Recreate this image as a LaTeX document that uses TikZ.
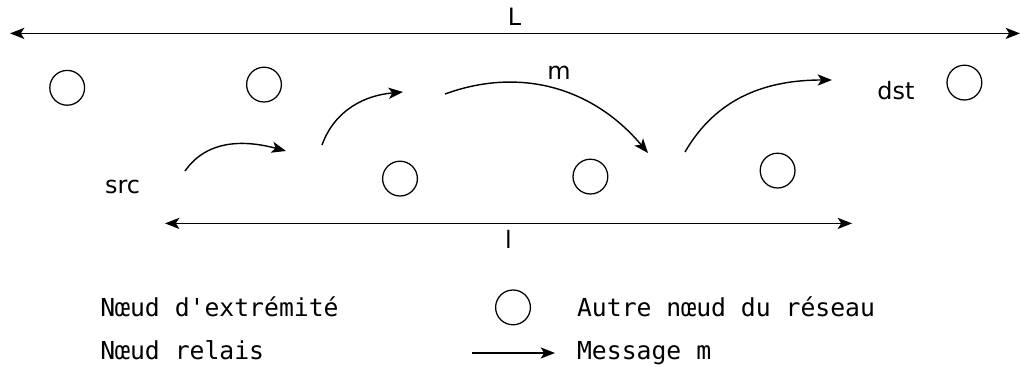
\documentclass[tikz,border=0pt]{standalone}
\usepackage{fontspec}
\setmainfont{DejaVu Sans}
\setmonofont{DejaVu Sans Mono}
\usetikzlibrary{arrows.meta}
\newcommand{\legtext}[1]{\texttt{#1}}

\begin{document}
\begin{tikzpicture}[
  >={Stealth[length=3.6mm, width=2.8mm, inset=0.9mm]},
  station/.style={
    circle, draw=black, line width=0.9pt,
    minimum size=0.87cm, inner sep=0pt
  },
  msg/.style={->, line width=1pt},
  dim/.style={<->, line width=1pt},
  lbl/.style={font=\fontsize{17}{20}\selectfont, inner sep=0pt, anchor=base west},
  leg/.style={font=\fontsize{17.6}{20}\selectfont, inner sep=0pt, anchor=base west},
]
  \useasboundingbox (0,0) rectangle (25.5,9.175);

  % other nodes of the network
  \node[station] (n1) at (1.68, 6.98)   {};
  \node[station] (n2) at (6.6, 7.06)    {};
  \node[station] (n3) at (10.0, 4.71)   {};
  \node[station] (n4) at (14.76, 4.76)  {};
  \node[station] (n5) at (19.44, 4.91)  {};
  \node[station] (n6) at (24.11, 7.11)  {};

  % end points
  \node[lbl] (src) at (2.62, 4.35)  {src};
  \node[lbl] (dst) at (21.93, 6.675) {dst};

  % lengths L and l
  \coordinate (Lw) at (0.25, 8.34);
  \coordinate (Le) at (25.5, 8.34);
  \draw[dim] (Lw) -- (Le);
  \node[lbl] (Llbl) at (12.69, 8.525) {L};

  \coordinate (lw) at (4.125, 3.59);
  \coordinate (le) at (21.3, 3.59);
  \draw[dim] (lw) -- (le);
  \node[lbl] (llbl) at (12.62, 2.975) {l};

  % hops of message m
  \coordinate (h1s) at (4.625, 4.9);
  \coordinate (h1e) at (7.15, 5.4);
  \draw[msg] (h1s) to[out=55, in=165] (h1e);

  \coordinate (h2s) at (8.05, 5.55);
  \coordinate (h2e) at (10.075, 6.875);
  \draw[msg] (h2s) to[out=70, in=185] (h2e);

  \coordinate (h3s) at (11.125, 6.825);
  \coordinate (h3e) at (16.2, 5.35);
  \draw[msg] (h3s) to[out=20, in=130] (h3e);
  \node[lbl] (mlbl) at (13.68, 7.175) {m};

  \coordinate (h4s) at (17.125, 5.375);
  \coordinate (h4e) at (20.8, 7.175);
  \draw[msg] (h4s) to[out=60, in=180] (h4e);

  % legend
  \node[leg] (kend)   at (2.5, 1.275)    {\legtext{Nœud d'extrémité}};
  \node[leg] (krelay) at (2.5, 0.2)      {\legtext{Nœud relais}};
  \node[station] (kother) at (12.825, 1.49) {};
  \node[leg] (kothertxt) at (14.42, 1.275) {\legtext{Autre nœud du réseau}};
  \coordinate (kmsgs) at (11.8, 0.35);
  \coordinate (kmsge) at (13.875, 0.35);
  \draw[msg] (kmsgs) -- (kmsge);
  \node[leg] (kmsgtxt) at (14.42, 0.2)  {\legtext{Message m}};
\end{tikzpicture}
\end{document}
